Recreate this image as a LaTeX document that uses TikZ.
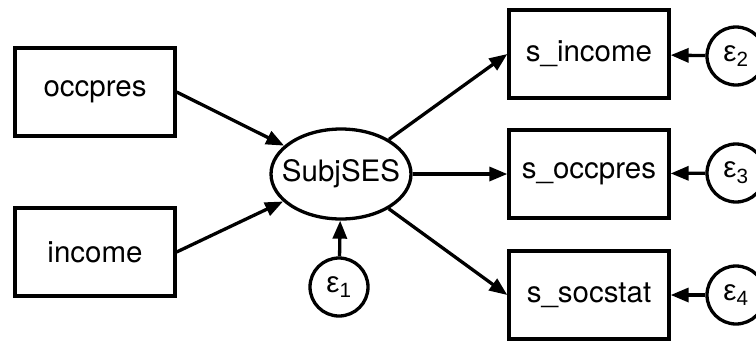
\documentclass[tikz,border=0pt]{standalone}
\usepackage{fontspec}
\setmainfont{TeX Gyre Heros}
\newfontfamily\greekfont{Liberation Sans}
\usetikzlibrary{arrows.meta,shapes.geometric}
\begin{document}
\begin{tikzpicture}[x=1pt,y=-1pt,
  every node/.style={font=\fontsize{29.5}{32}\selectfont},
  obs/.style={draw,line width=3.3pt,minimum width=160pt,minimum height=88pt,inner sep=0pt},
  lat/.style={draw,ellipse,line width=3.3pt,minimum width=140pt,minimum height=90pt,inner xsep=-12pt,inner ysep=0pt},
  err/.style={draw,circle,line width=3.3pt,minimum size=58pt,inner sep=0pt},
  path/.style={line width=3.3pt,-{Triangle[length=18pt,width=14pt]}}]
\useasboundingbox (0,0) rectangle (756,341);
\node[obs] (occpres) at (95,92) {occpres};
\node[obs] (income) at (95,252) {income};
\node[lat] (subj) at (341,174) {SubjSES};
\node[err] (e1) at (339,287) {\greekfont ε\textsubscript{1}};
\node[obs] (sinc) at (589,54) {s\_income};
\node[obs] (socc) at (589,174) {s\_occpres};
\node[obs] (ssoc) at (589,295) {s\_socstat};
\node[err] (e2) at (736,56) {\greekfont ε\textsubscript{2}};
\node[err] (e3) at (736,173) {\greekfont ε\textsubscript{3}};
\node[err] (e4) at (736,295) {\greekfont ε\textsubscript{4}};
\draw[path] (occpres.east) -- (subj);
\draw[path] (income.east) -- (subj);
\draw[path] (e1) -- (subj);
\draw[path] (subj) -- (sinc.west);
\draw[path] (subj) -- (socc.west);
\draw[path] (subj) -- (ssoc.west);
\draw[path] (e2) -- (sinc);
\draw[path] (e3) -- (socc);
\draw[path] (e4) -- (ssoc);
\end{tikzpicture}
\end{document}
